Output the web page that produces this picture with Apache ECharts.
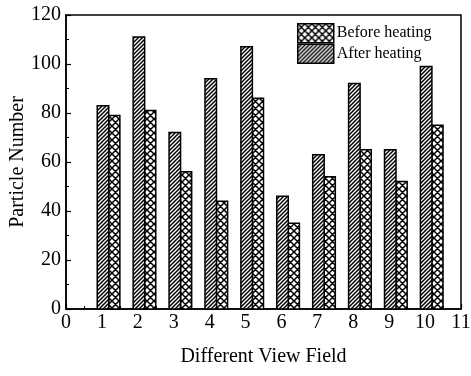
<!DOCTYPE html>
<html>
<head>
<meta charset="utf-8">
<script src="https://cdn.jsdelivr.net/npm/echarts@6/dist/echarts.min.js"></script>
<style>
  html, body { margin: 0; padding: 0; background: #fff; }
  #chart { width: 471px; height: 376px; }
</style>
</head>
<body>
<div id="chart"></div>
<script>
"use strict"

const fields = [1, 2, 3, 4, 5, 6, 7, 8, 9, 10];
const afterHeating = [83, 111, 72, 94, 107, 46, 63, 92, 65, 99];
const beforeHeating = [79, 81, 56, 44, 86, 35, 54, 65, 52, 75];

const serif = "'Liberation Serif', 'Times New Roman', serif";

// hatch tiles
function makeHatch(cross)
{
    const size = cross ? 7 : 4;
    const cv = document.createElement("canvas");
    cv.width = size; cv.height = size;
    const ctx = cv.getContext("2d");
    ctx.fillStyle = "#fff";
    ctx.fillRect(0, 0, size, size);
    ctx.strokeStyle = "#000";
    ctx.lineWidth = 1.5;
    ctx.beginPath();
    ctx.moveTo(-1, size + 1); ctx.lineTo(size + 1, -1);
    ctx.moveTo(-1, 1); ctx.lineTo(1, -1);
    ctx.moveTo(size - 1, size + 1); ctx.lineTo(size + 1, size - 1);
    if (cross)
    {
        ctx.moveTo(-1, -1); ctx.lineTo(size + 1, size + 1);
        ctx.moveTo(size - 1, -1); ctx.lineTo(size + 1, 1);
        ctx.moveTo(-1, size - 1); ctx.lineTo(1, size + 1);
    }
    ctx.stroke();
    return { image: cv, repeat: "repeat" };
}
const diagFill = makeHatch(false);
const crossFill = makeHatch(true);

function barRenderer(from, to, fill)
{
    return (params, api) =>
    {
        const x = api.value(0), y = api.value(1);
        const p0 = api.coord([x + from, y]);
        const p1 = api.coord([x + to, 0]);
        return {
            type: "rect",
            shape: { x: p0[0], y: p0[1], width: p1[0] - p0[0], height: p1[1] - p0[1] },
            style: { fill: fill, stroke: "#000", lineWidth: 1.5 }
        };
    };
}

const myChart = echarts.init(document.getElementById("chart"), null, { renderer: "canvas" });
const option = {
    animation: false,
    backgroundColor: "#fff",
    textStyle: { fontFamily: serif, color: "#000" },
    grid: {
        left: 66, right: 10, top: 15, bottom: 67,
        outerBoundsMode: "none", containLabel: false,
        show: true, borderColor: "#000", borderWidth: 1.5
    },
    legend: {
        orient: "vertical",
        left: 297,
        top: 23,
        itemWidth: 36,
        itemHeight: 19,
        itemGap: 0,
        padding: 0,
        textStyle: { fontFamily: serif, fontSize: 16, color: "#000", padding: [0, 0, 0, -2] },
        data: [
            { name: "Before heating", icon: "rect", itemStyle: { color: crossFill, borderColor: "#000", borderWidth: 1.5 } },
            { name: "After heating", icon: "rect", itemStyle: { color: diagFill, borderColor: "#000", borderWidth: 1.5 } }
        ]
    },
    xAxis: {
        type: "value",
        min: 0, max: 11, interval: 1,
        name: "Different View Field",
        nameLocation: "middle",
        nameGap: 38,
        nameMoveOverlap: false,
        nameTextStyle: { fontFamily: serif, fontSize: 20, color: "#000" },
        axisLine: { show: true, onZero: false, lineStyle: { color: "#000", width: 1.5 } },
        axisTick: { show: true, inside: true, length: 5, lineStyle: { color: "#000", width: 1.2 } },
        minorTick: { show: true, splitNumber: 2, length: 3, lineStyle: { color: "#000", width: 1 } },
        axisLabel: { fontFamily: serif, fontSize: 20, color: "#000", margin: 4 },
        splitLine: { show: false }
    },
    yAxis: {
        type: "value",
        min: 0, max: 120, interval: 20,
        name: "Particle Number",
        nameLocation: "middle",
        nameGap: 38,
        nameMoveOverlap: false,
        nameTextStyle: { fontFamily: serif, fontSize: 20, color: "#000" },
        axisLine: { show: true, lineStyle: { color: "#000", width: 1.5 } },
        axisTick: { show: true, inside: true, length: 5, lineStyle: { color: "#000", width: 1.2 } },
        minorTick: { show: true, splitNumber: 2, length: 3, lineStyle: { color: "#000", width: 1 } },
        axisLabel: { fontFamily: serif, fontSize: 20, color: "#000", margin: 5 },
        splitLine: { show: false }
    },
    series: [
        {
            name: "Before heating",
            type: "custom",
            itemStyle: { color: crossFill },
            renderItem: barRenderer(0.19, 0.5, crossFill),
            data: fields.map((f, i) => [f, beforeHeating[i]]),
            z: 3
        },
        {
            name: "After heating",
            type: "custom",
            itemStyle: { color: diagFill },
            renderItem: barRenderer(-0.13, 0.19, diagFill),
            data: fields.map((f, i) => [f, afterHeating[i]]),
            z: 3
        }
    ]
};
myChart.setOption(option);
</script>
</body>
</html>
